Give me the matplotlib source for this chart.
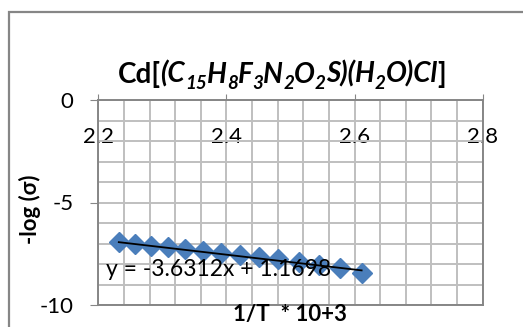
import matplotlib
matplotlib.use('Agg')
import matplotlib.pyplot as plt
from matplotlib.patches import Rectangle
from matplotlib.ticker import MultipleLocator
from matplotlib.transforms import offset_copy

# данные
inv_T = [2.232, 2.257, 2.283, 2.309, 2.336, 2.364, 2.392,
         2.421, 2.451, 2.481, 2.513, 2.545, 2.577, 2.611]
neg_log_sigma = [-6.95, -7.02, -7.10, -7.18, -7.27, -7.36, -7.45,
                 -7.55, -7.66, -7.78, -7.92, -8.06, -8.21, -8.42]
slope = -3.6312
intercept = 1.1698
x_ticks = [2.2, 2.4, 2.6, 2.8]
y_ticks = [0, -5, -10]

# заголовок по кускам: (текст, курсив, индекс)
title_parts = [('Cd[', False, False), ('(C', True, False), ('15', True, True),
               ('H', True, False), ('8', True, True), ('F', True, False),
               ('3', True, True), ('N', True, False), ('2', True, True),
               ('O', True, False), ('2', True, True), ('S)(H', True, False),
               ('2', True, True), ('O)Cl', True, False), (']', False, False)]

plt.rcParams['font.family'] = ['Lato', 'DejaVu Sans']

grid_col = '#bfbfbf'
axis_col = '#868686'
blue = '#4a7ebb'

fig = plt.figure(figsize=(5.23, 3.27), dpi=100)
fig.patches.append(Rectangle((8.5 / 523, -0.1), 1.2, (327 - 12.5) / 327 + 0.1,
                             transform=fig.transFigure, fill=False,
                             edgecolor=axis_col, linewidth=1.6))

ax = fig.add_axes([98.3 / 523, 22 / 327, 384.4 / 523, 205 / 327])
ax.set_xlim(2.2, 2.8)
ax.set_ylim(-10, 0)
ax.xaxis.set_minor_locator(MultipleLocator(0.04))
ax.yaxis.set_minor_locator(MultipleLocator(1))
ax.set_xticks(x_ticks)
ax.set_xticklabels([f'{v:g}' for v in x_ticks])
ax.set_yticks(y_ticks)
ax.set_yticklabels([f'{v:g}' for v in y_ticks])

ax.grid(True, which='both', color=grid_col, linewidth=1.4)
ax.set_axisbelow(True)
for s in ax.spines.values():
    s.set_color(axis_col)
    s.set_linewidth(1.4)

ax.tick_params(axis='x', which='major', top=True, bottom=False,
               labeltop=True, labelbottom=False, direction='out',
               length=4, color=axis_col, pad=-38, labelsize=16)
ax.tick_params(axis='x', which='minor', top=False, bottom=False)
ax.tick_params(axis='y', which='major', left=True, direction='out',
               length=6, color=axis_col, pad=12, labelsize=16)
ax.tick_params(axis='y', which='minor', left=False)

ax.plot(inv_T, neg_log_sigma, linestyle='none', marker='D',
        markersize=10, color=blue, clip_on=False, zorder=3)
x_fit = [inv_T[0], inv_T[-1]]
y_fit = [slope * v + intercept for v in x_fit]
ax.plot(x_fit, y_fit, color='black', linewidth=1.3, zorder=4)

ax.text(2.212, -8.29, f'y = {slope}x + {intercept}', fontsize=16.5,
        va='center', ha='left', zorder=5)

# заголовок: жирный, формула курсивом, индексы ниже и мельче
renderer = fig.canvas.get_renderer()
tx, ty = 0.539, 0.747
pieces = []
offs = []
xoff = 0.0
for txt, it, sub in title_parts:
    t = fig.text(tx, ty, txt, fontsize=13.5 if sub else 20, fontweight='bold',
                 style='italic' if it else 'normal', ha='left', va='baseline')
    w = t.get_window_extent(renderer).width
    pieces.append((t, sub))
    offs.append(xoff)
    xoff += w
for (t, sub), o in zip(pieces, offs):
    t.set_transform(offset_copy(fig.transFigure, fig, x=o - xoff / 2,
                                y=-6 if sub else 0, units='dots'))

fig.text(0.554, 0.037, '1/T  * 10+3', fontsize=16, fontweight='bold',
         ha='center', va='center')
fig.text(0.058, 0.36, '-log (σ)', fontsize=16, fontweight='bold',
         rotation=90, ha='center', va='center')

fig.savefig('out.png', dpi=100)
